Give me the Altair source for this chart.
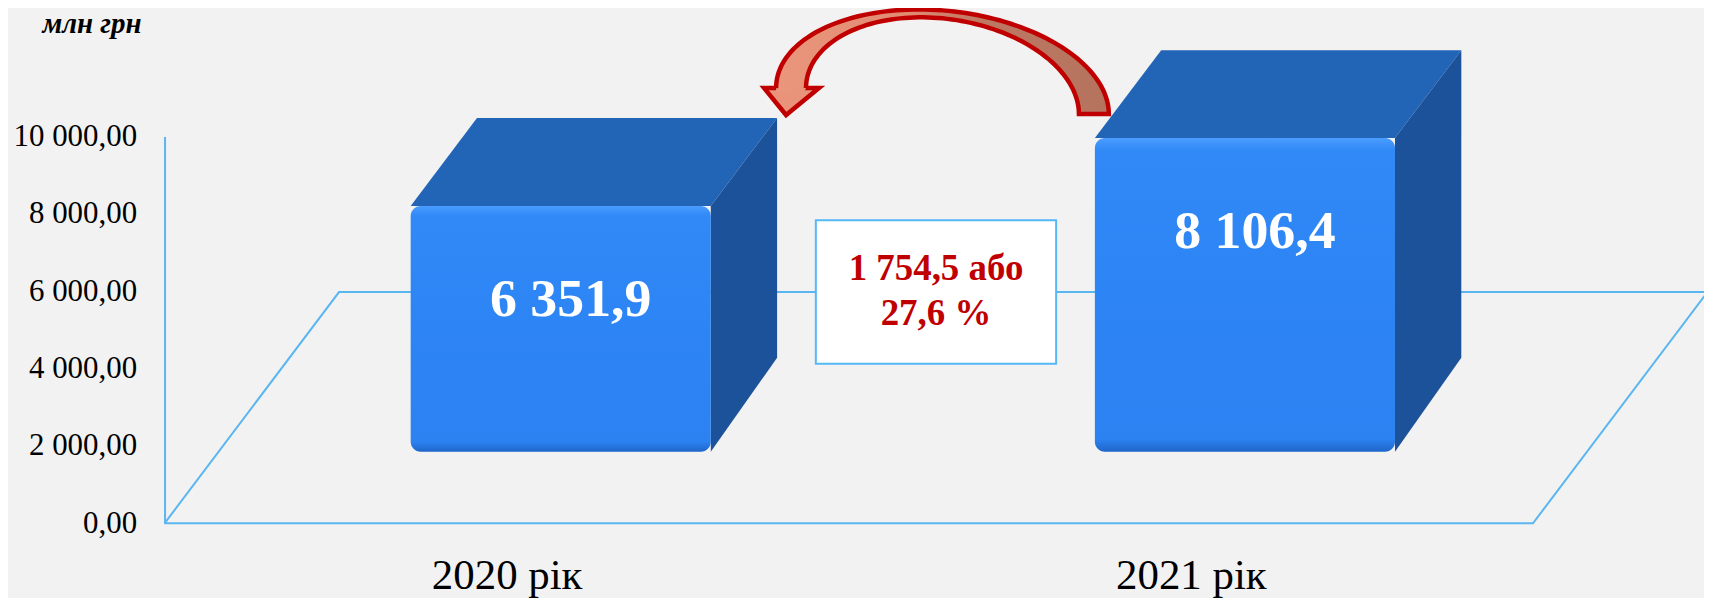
import altair as alt
import numpy as np
import pandas as pd

# ---------------- data ----------------
CATEGORIES = ["2020 рік", "2021 рік"]
VALUES = [6351.9, 8106.4]
Y_TICKS = [0, 2000, 4000, 6000, 8000, 10000]
Y_TICK_LABELS = ["0,00", "2 000,00", "4 000,00", "6 000,00", "8 000,00", "10 000,00"]
UNIT = "млн грн"


def fmt(v, d):
    return f"{v:,.{d}f}".replace(",", " ").replace(".", ",")


# ---------------- layout constants ----------------
W, H = 1544, 388
XMAX, YMAX = 2.25, 10000.0
PXU = W / XMAX
PXV = H / YMAX


def U(px):
    return px / PXU


def V(px):
    return px / PXV


DU, DV = U(175), V(232)          # oblique depth of the 3-D floor
BAR_W = U(301)
D0, D1 = 0.31, 0.69              # bar depth range inside floor
SERIF = "Liberation Serif"
LINE_BLUE = "#5ab6f0"
DARK_RED = "#c00000"

xs_ = alt.Scale(domain=[0, XMAX], nice=False, zero=False)
ys_ = alt.Scale(domain=[0, YMAX], nice=False, zero=False)

x_tick_vals = [i + 0.5 for i in range(len(CATEGORIES))]
x_label_expr = " : ".join(
    [f"datum.value == {v} ? '{c}'" for v, c in zip(x_tick_vals[:-1], CATEGORIES[:-1])]
) + f" : '{CATEGORIES[-1]}'"
y_label_expr = "".join(
    [f"datum.value == {t} ? '{l}' : " for t, l in zip(Y_TICKS, Y_TICK_LABELS)]
) + "''"

X_AXIS = alt.Axis(
    values=x_tick_vals, labelExpr=x_label_expr, domain=False, ticks=False, tickSize=0,
    grid=False, labelFont=SERIF, labelFontSize=43, labelColor="black",
    labelPadding=31, labelFlush=False, title=None)
Y_AXIS = alt.Axis(
    values=Y_TICKS, labelExpr=y_label_expr, domainColor=LINE_BLUE, domainWidth=2,
    ticks=False, tickSize=0, grid=False, labelFont=SERIF, labelFontSize=31,
    labelColor="black", labelPadding=28, labelFlush=False,
    title=UNIT, titleAngle=0, titleX=-123, titleY=-113, titleAlign="left",
    titleBaseline="middle", titleFont=SERIF, titleFontSize=29,
    titleFontStyle="italic", titleFontWeight="bold", titleColor="black")


def X(field):
    return alt.X(field, scale=xs_, axis=X_AXIS)


def Y(field):
    return alt.Y(field, scale=ys_, axis=Y_AXIS)


# ---------------- bar geometry ----------------
top_rows, side_rows, front_rows, geo = [], [], [], []
for i, (cat, val) in enumerate(zip(CATEGORIES, VALUES)):
    c = i + 0.5
    fl = c - BAR_W / 2 + D0 * DU
    fr = fl + BAR_W
    bl = fl + (D1 - D0) * DU
    br = fr + (D1 - D0) * DU
    vbf = D0 * DV
    vtf = vbf + val
    vbb = D1 * DV
    vtb = vbb + val
    top_rows += [dict(bar=cat, y=vtf, x=fl, x2=fr), dict(bar=cat, y=vtb, x=bl, x2=br)]
    side_rows += [dict(bar=cat, x=fr, y=vtf, y2=vbf), dict(bar=cat, x=br, y=vtb, y2=vbb + V(6))]
    front_rows.append(dict(bar=cat, x=fl, x2=fr, y=vbf, y2=vtf, xm=(fl + fr) / 2, label=fmt(val, 1)))
    geo.append(dict(fl=fl, fr=fr, bl=bl, br=br, vtf=vtf, vtb=vtb))

top_df = pd.DataFrame(top_rows)
side_df = pd.DataFrame(side_rows)
front_df = pd.DataFrame(front_rows)

# ---------------- floor ----------------
floor_df = pd.DataFrame({
    "u": [0, 2, 2 + DU, DU, 0],
    "v": [0, 0, DV, DV, 0],
    "o": [0, 1, 2, 3, 4],
})

floor = alt.Chart(floor_df).mark_line(color=LINE_BLUE, strokeWidth=2).encode(
    x=X("u:Q"), y=Y("v:Q"), order="o:Q",
)

top_face = alt.Chart(top_df).mark_area(orient="horizontal", color="#2264b6").encode(
    y=Y("y:Q"), x=X("x:Q"), x2="x2:Q", detail="bar:N",
)

side_face = alt.Chart(side_df).mark_area(orient="vertical", color="#1c5299").encode(
    x=X("x:Q"), y=Y("y:Q"), y2="y2:Q", detail="bar:N",
)

front_grad = alt.Gradient(
    gradient="linear", x1=0, x2=0, y1=0, y2=1,
    stops=[
        alt.GradientStop(color="#4a9cff", offset=0),
        alt.GradientStop(color="#3189f7", offset=0.04),
        alt.GradientStop(color="#2d84f4", offset=0.5),
        alt.GradientStop(color="#2c82f1", offset=0.96),
        alt.GradientStop(color="#1e66c9", offset=1),
    ],
)
front_face = alt.Chart(front_df).mark_rect(fill=front_grad, cornerRadius=10).encode(
    x=X("x:Q"), x2="x2:Q", y=Y("y:Q"), y2="y2:Q",
)

value_text = alt.Chart(front_df).mark_text(
    font=SERIF, fontSize=54, fontWeight="bold", color="white", baseline="middle", dy=94, dx=10
).encode(
    x=X("xm:Q"), y=Y("y2:Q"), text="label:N",
)

# ---------------- difference box ----------------
diff = VALUES[1] - VALUES[0]
pct = diff / VALUES[0] * 100
box_text = f"{fmt(diff, 1)} або\n{fmt(pct, 1)} %"
bu, bv = 1 + 0.5 * DU, DV
box_df = pd.DataFrame([dict(x=bu - U(120.5), x2=bu + U(120.5), y=bv - V(72), y2=bv + V(72),
                            xm=bu, ym=bv, t=box_text)])
box = alt.Chart(box_df).mark_rect(fill="white", stroke="#56b8f5", strokeWidth=2).encode(
    x=X("x:Q"), x2="x2:Q", y=Y("y:Q"), y2="y2:Q",
)
box_label = alt.Chart(box_df).mark_text(
    font=SERIF, fontSize=37, fontWeight="bold", color=DARK_RED, baseline="middle",
    lineBreak="\n", lineHeight=45, dy=-23,
).encode(
    x=X("xm:Q"), y=Y("ym:Q"), text="t:N",
)

# ---------------- curved arrow (from 2021 bar back to 2020 bar) ----------------
g1, g2 = geo
tip_u, tip_v = g1["br"] + U(9), g1["vtb"] + V(3)
Lu, Lv = tip_u + U(5), tip_v + V(27)
Ru, Rv = g2["fl"] + U(-1), g2["vtf"] + V(24)
cx, half = (Lu + Ru) / 2, (Ru - Lu) / 2
HW = U(15)
rxo, rxi = half + HW, half - HW
ryo, ryi = V(91), V(83)


def curve(x, rx, ry):
    c = np.clip((cx - x) / rx, -1, 1)
    tt = np.arccos(c)
    return Lv + (Rv - Lv) * (1 - c) / 2 + ry * np.sin(tt)


t = np.linspace(0, np.pi, 91)
xs = np.unique(np.concatenate([cx - rxo * np.cos(t), cx - rxi * np.cos(t)]))
top_v = curve(xs, rxo, ryo)
inside = np.abs(xs - cx) <= rxi + 1e-12
bot_v = np.where(inside, curve(xs, rxi, ryi), np.where(xs < cx, Lv - V(4), Rv))
shaft_df = pd.DataFrame({"x": xs, "top": top_v, "bot": bot_v})

ox = cx - rxo * np.cos(t)
ix = (cx - rxi * np.cos(t))[::-1]
outline_df = pd.DataFrame({
    "x": np.concatenate([ox, ix]),
    "y": np.concatenate([curve(ox, rxo, ryo), curve(ix, rxi, ryi)]),
})
outline_df["o"] = np.arange(len(outline_df))

head_df = pd.DataFrame([
    dict(y=Lv, x=tip_u - U(22), x2=tip_u + U(33)),
    dict(y=tip_v, x=tip_u, x2=tip_u),
])

shaft_grad = alt.Gradient(
    gradient="linear", x1=0, x2=1, y1=0, y2=0,
    stops=[
        alt.GradientStop(color="#ea967c", offset=0),
        alt.GradientStop(color="#e08b72", offset=0.4),
        alt.GradientStop(color="#bd7862", offset=0.62),
        alt.GradientStop(color="#b5735e", offset=1),
    ],
)

head = alt.Chart(head_df).mark_area(
    orient="horizontal", fill="#e9937a", stroke=DARK_RED, strokeWidth=4.5, strokeJoin="miter"
).encode(
    y=Y("y:Q"), x=X("x:Q"), x2="x2:Q",
)
shaft = alt.Chart(shaft_df).mark_area(orient="vertical", fill=shaft_grad).encode(
    x=X("x:Q"), y=Y("top:Q"), y2="bot:Q",
)
outline = alt.Chart(outline_df).mark_line(
    color=DARK_RED, strokeWidth=4.5, strokeJoin="miter"
).encode(
    x=X("x:Q"), y=Y("y:Q"), order="o:Q",
)

chart = alt.layer(
    floor, top_face, side_face, front_face, value_text, box, box_label, head, shaft, outline
).properties(
    width=W,
    height=H,
    padding={"left": 157, "top": 128, "right": 0, "bottom": 74},
    autosize=alt.AutoSizeParams(type="none"),
    background="#f2f2f2",
).configure_view(stroke=None)

chart.save("out.html", embed_options={"renderer": "svg", "actions": False})
